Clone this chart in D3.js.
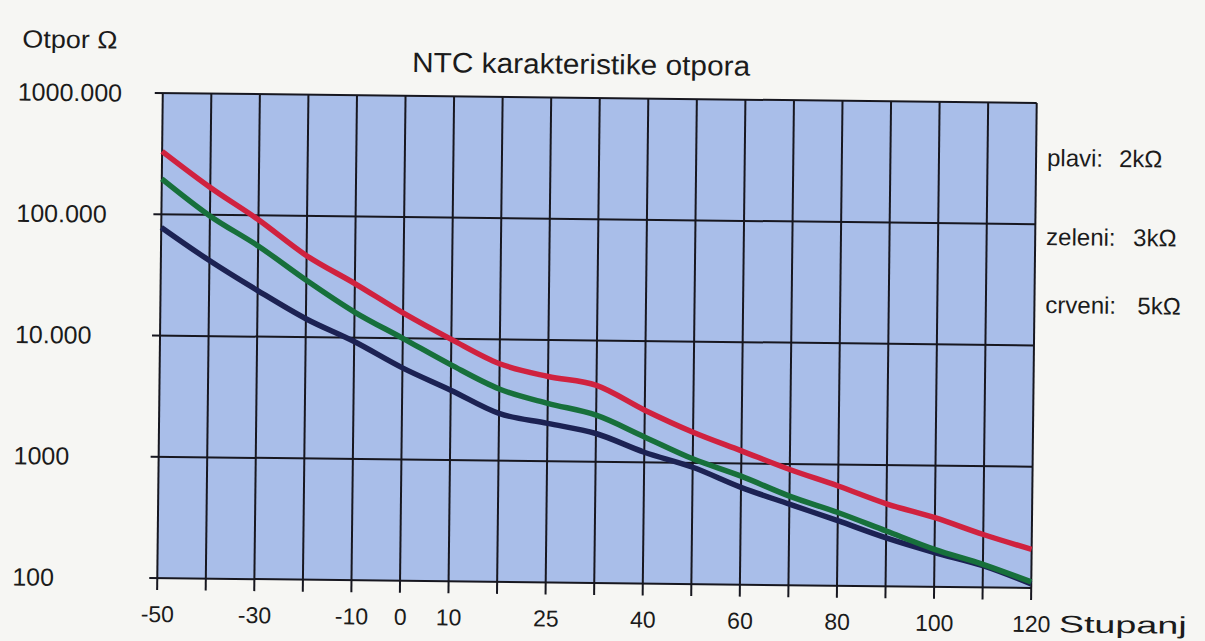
<!DOCTYPE html>
<html>
<head>
<meta charset="utf-8">
<script src="https://cdn.jsdelivr.net/npm/d3@7"></script>
<style>
  html, body { margin: 0; padding: 0; background: #f6f6f3; }
  svg { display: block; }
  text { font-family: "Liberation Sans", Arial, sans-serif; fill: #1b1b1b; }
</style>
</head>
<body>
<svg id="chart" width="1205" height="641"></svg>
<script>
// Temperature categories (°C) – evenly spaced columns, 25 °C inserted as nominal point
const temps = [-50, -40, -30, -20, -10, 0, 10, 20, 25, 30, 40, 50, 60, 70, 80, 90, 100, 110, 120];
const tempLabels = [-50, -30, -10, 0, 10, 25, 40, 60, 80, 100, 120];

// Resistance decades (Ω) and their printed labels
const decades = [100, 1000, 10000, 100000, 1000000];
const decadeLabels = ["100", "1000", "10.000", "100.000", "1000.000"];

// NTC resistance (Ω) per temperature
const blue2k  = [78000, 42000, 24000, 14200, 9300, 5700, 3770, 2450, 2050, 1710, 1210, 920, 635, 466, 344, 251, 192, 151, 108];
const green3k = [196000, 98000, 56000, 29500, 16300, 10000, 6100, 3900, 3000, 2420, 1620, 1080, 785, 543, 402, 286, 204, 155, 112];
const red5k   = [330000, 168000, 92000, 47000, 28000, 16200, 9900, 6300, 5000, 4260, 2690, 1790, 1270, 900, 665, 479, 372, 273, 208];

const legendNames  = ["plavi:", "zeleni:", "crveni:"];
const legendValues = ["2kΩ", "3kΩ", "5kΩ"];

const svg = d3.select("#chart");
const box = { left: 160, right: 1034, top: 98, bottom: 583 };

// the whole sheet sits at a slight angle
const g = svg.append("g").attr("transform", "rotate(0.65, 597, 340)");

const x = d3.scalePoint().domain(temps).range([box.left, box.right]);
const y = d3.scaleLog().domain([100, 1000000]).range([box.bottom, box.top]);

// plot background
g.append("rect")
  .attr("x", box.left).attr("y", box.top)
  .attr("width", box.right - box.left).attr("height", box.bottom - box.top)
  .attr("fill", "#a9bee9");

// horizontal grid (one per decade), extending left as ticks
g.selectAll("line.hgrid").data(decades).join("line")
  .attr("class", "hgrid")
  .attr("x1", box.left - 8).attr("x2", box.right)
  .attr("y1", d => y(d)).attr("y2", d => y(d))
  .attr("stroke", "#17171f").attr("stroke-width", 2);

// vertical grid (one per temperature column), extending below as ticks
g.selectAll("line.vgrid").data(temps).join("line")
  .attr("class", "vgrid")
  .attr("x1", d => x(d)).attr("x2", d => x(d))
  .attr("y1", box.top).attr("y2", box.bottom + 12)
  .attr("stroke", "#17171f").attr("stroke-width", 2);

// curves
const line = d3.line()
  .x((d, i) => x(temps[i]))
  .y(d => y(d))
  .curve(d3.curveMonotoneX);

const series = [
  { values: blue2k,  color: "#1c2253" },
  { values: green3k, color: "#17703b" },
  { values: red5k,   color: "#d0223f" }
];

g.selectAll("path.curve").data(series).join("path")
  .attr("class", "curve")
  .attr("d", d => line(d.values))
  .attr("fill", "none")
  .attr("stroke", d => d.color)
  .attr("stroke-width", 5.5)
  .attr("stroke-linejoin", "round");

// y labels
g.selectAll("text.ylab").data(decades).join("text")
  .attr("class", "ylab")
  .attr("x", 15)
  .attr("y", d => y(d) + 9)
  .attr("font-size", 25)
  .text((d, i) => decadeLabels[i]);

// x labels
const xAxis = d3.axisBottom(x).tickValues(tempLabels).tickSize(0).tickPadding(0);
const xg = g.append("g").attr("transform", `translate(0, ${box.bottom + 44})`).call(xAxis);
xg.select(".domain").remove();
xg.selectAll("text")
  .attr("y", 0).attr("dy", 0)
  .attr("font-size", 23)
  .style("font-family", "\"Liberation Sans\", Arial, sans-serif")
  .attr("fill", "#1b1b1b");

g.append("text")
  .attr("x", x(120) + 28).attr("y", box.bottom + 44)
  .attr("font-size", 24)
  .attr("textLength", 128).attr("lengthAdjust", "spacingAndGlyphs")
  .text("Stupanj");

// axis title and chart title
g.append("text").attr("x", 19).attr("y", 54).attr("font-size", 25)
  .attr("textLength", 95).attr("lengthAdjust", "spacingAndGlyphs")
  .text("Otpor Ω");

g.append("text").attr("x", 409).attr("y", 74).attr("font-size", 28)
  .attr("textLength", 338).attr("lengthAdjust", "spacingAndGlyphs")
  .text("NTC karakteristike otpora");

// legend
const legY = [161, 240, 308];
const legValX = [1117, 1132, 1137];
g.selectAll("text.legname").data(legendNames).join("text")
  .attr("class", "legname")
  .attr("x", 1045).attr("y", (d, i) => legY[i])
  .attr("font-size", 24)
  .text(d => d);
g.selectAll("text.legval").data(legendValues).join("text")
  .attr("class", "legval")
  .attr("x", (d, i) => legValX[i]).attr("y", (d, i) => legY[i])
  .attr("font-size", 24)
  .text(d => d);
</script>
</body>
</html>
